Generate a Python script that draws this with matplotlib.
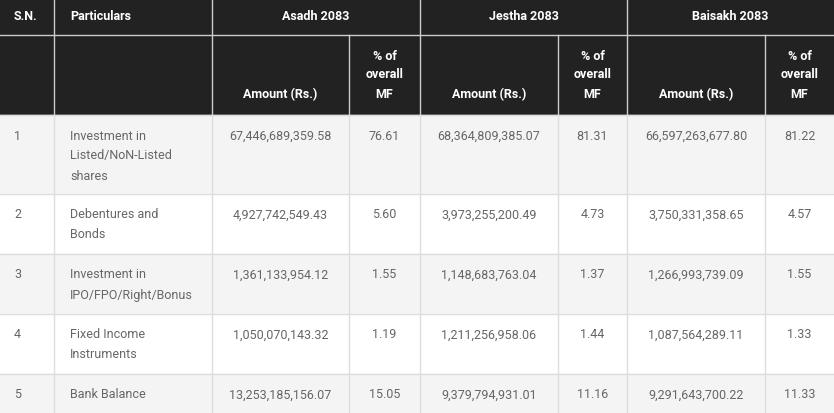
import matplotlib.pyplot as plt
from matplotlib.patches import Rectangle

plt.rcParams['font.family'] = ['Roboto', 'DejaVu Sans']

months = ["Asadh 2083", "Jestha 2083", "Baisakh 2083"]
particulars = [
    ["Investment in", "Listed/NoN-Listed", "shares"],
    ["Debentures and", "Bonds"],
    ["Investment in", "IPO/FPO/Right/Bonus"],
    ["Fixed Income", "Instruments"],
    ["Bank Balance"],
]
asadh_amt = ["67,446,689,359.58", "4,927,742,549.43", "1,361,133,954.12", "1,050,070,143.32", "13,253,185,156.07"]
asadh_pct = ["76.61", "5.60", "1.55", "1.19", "15.05"]
jestha_amt = ["68,364,809,385.07", "3,973,255,200.49", "1,148,683,763.04", "1,211,256,958.06", "9,379,794,931.01"]
jestha_pct = ["81.31", "4.73", "1.37", "1.44", "11.16"]
baisakh_amt = ["66,597,263,677.80", "3,750,331,358.65", "1,266,993,739.09", "1,087,564,289.11", "9,291,643,700.22"]
baisakh_pct = ["81.22", "4.57", "1.55", "1.33", "11.33"]

amounts = [asadh_amt, jestha_amt, baisakh_amt]
pcts = [asadh_pct, jestha_pct, baisakh_pct]

W, H = 834, 413
cols = [0, 54, 212, 349, 420, 558, 627, 765, 834]
rows = [0, 35, 115, 194, 254, 314, 374, 434]
dark = "#222222"
line = "#dddddd"
body = "#666666"
fs = 9

fig = plt.figure(figsize=(W / 100, H / 100), dpi=100)
ax = fig.add_axes([0, 0, 1, 1])
ax.set_xlim(0, W)
ax.set_ylim(H, 0)
ax.axis("off")

# header background
ax.add_patch(Rectangle((0, 0), W, rows[2], color=dark, zorder=0))
# body row backgrounds
for i in range(5):
    c = "#f4f4f4" if i % 2 == 0 else "white"
    ax.add_patch(Rectangle((0, rows[i + 2]), W, rows[i + 3] - rows[i + 2], color=c, zorder=0))

# grid lines
ax.plot([0, W], [rows[1], rows[1]], color="#cccccc", lw=1)
for y in rows[2:]:
    ax.plot([0, W], [y, y], color=line, lw=1)
for x in cols[1:-1]:
    top = rows[1] if x in (cols[3], cols[5], cols[7]) else 0
    ax.plot([x, x], [top, rows[2]], color="#cccccc", lw=1)
    ax.plot([x, x], [rows[2], H], color=line, lw=1)

hdr = dict(color="white", fontsize=fs, fontweight="bold", va="center")
ax.text(14, 16, "S.N.", ha="left", **hdr)
ax.text(70, 16, "Particulars", ha="left", **hdr)
for k, m in enumerate(months):
    x0, x1 = cols[2 + 2 * k], cols[4 + 2 * k]
    ax.text((x0 + x1) / 2, 16, m, ha="center", **hdr)
    ax.text((x0 + cols[3 + 2 * k]) / 2, 95, "Amount (Rs.)", ha="center", **hdr)
    xc = (cols[3 + 2 * k] + x1) / 2
    for j, t in enumerate(["% of", "overall", "MF"]):
        ax.text(xc, 56 + 19 * j, t, ha="center", **hdr)

bd = dict(color=body, fontsize=fs, va="center")
for i in range(5):
    y = rows[i + 2] + 21
    ax.text(14, y, str(i + 1), ha="left", **bd)
    for j, t in enumerate(particulars[i]):
        ax.text(70, y + 20 * j, t, ha="left", **bd)
    for k in range(3):
        ax.text((cols[2 + 2 * k] + cols[3 + 2 * k]) / 2, y, amounts[k][i], ha="center", **bd)
        ax.text((cols[3 + 2 * k] + cols[4 + 2 * k]) / 2, y, pcts[k][i], ha="center", **bd)

fig.savefig("out.png", dpi=100)
